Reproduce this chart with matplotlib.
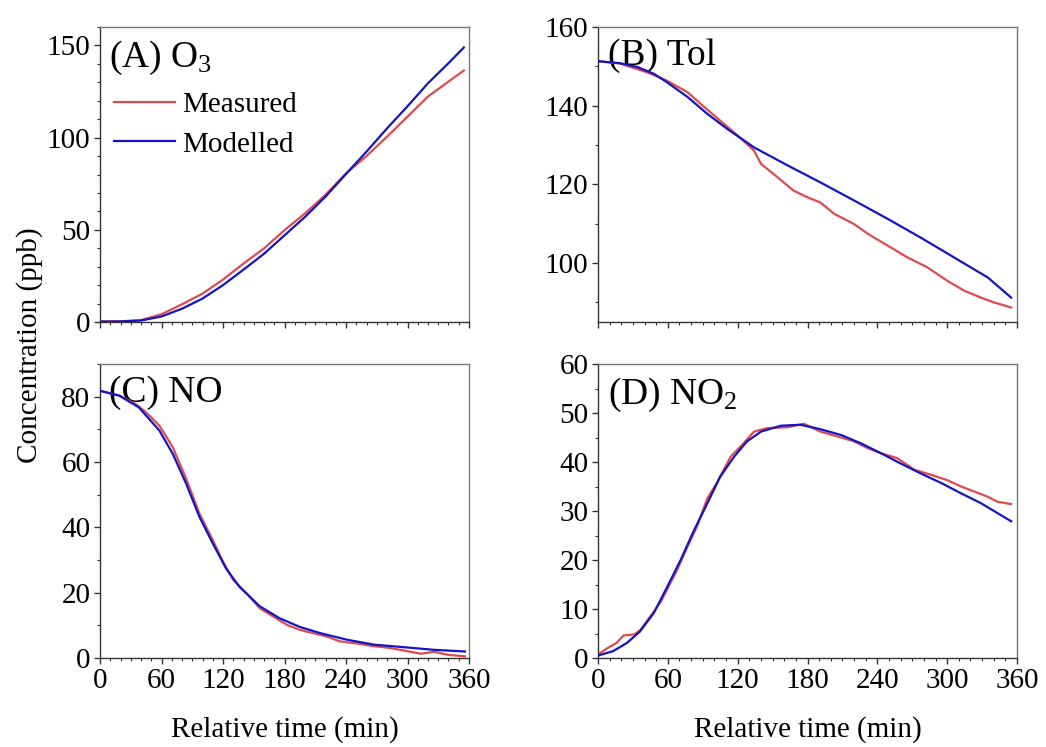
import matplotlib
matplotlib.use("Agg")
import matplotlib.pyplot as plt
from matplotlib.ticker import MultipleLocator

plt.rcParams['font.family'] = ['Liberation Serif', 'DejaVu Serif']
plt.rcParams['mathtext.fontset'] = 'custom'
plt.rcParams['mathtext.rm'] = 'Liberation Serif'
plt.rcParams['mathtext.it'] = 'Liberation Serif:italic'

RED = '#E04A4F'
BLUE = '#1414C4'

# ---------------- data ----------------
# (A) O3
o3_meas_t = [0, 20, 40, 60, 80, 100, 120, 140, 160, 180, 200, 220, 240, 260, 280, 300, 320, 340, 355]
o3_meas_v = [0.3, 0.4, 1.0, 4.2, 9.6, 15.4, 23.0, 31.7, 39.9, 49.8, 58.9, 69.0, 80.6, 90.0, 100.5, 111.4, 122.3, 130.4, 136.4]
o3_mod_t = [0, 20, 40, 60, 80, 100, 120, 140, 160, 180, 200, 220, 240, 260, 280, 300, 320, 340, 355]
o3_mod_v = [0.2, 0.3, 0.8, 3.0, 7.2, 12.7, 20.0, 28.4, 37.0, 47.0, 57.0, 68.0, 80.3, 92.4, 105.0, 117.0, 129.5, 140.4, 148.9]

# (B) Toluene
tol_meas_t = [0, 19, 42, 59, 77, 88, 105, 120, 134, 140, 151, 168, 180, 191, 203, 220, 232, 249, 266, 283, 300, 315, 329, 340, 355]
tol_meas_v = [151.3, 150.7, 148.5, 146.4, 143.4, 140.5, 136.2, 132.4, 128.6, 125.2, 122.6, 118.4, 116.7, 115.4, 112.5, 109.9, 107.4, 104.4, 101.4, 98.9, 95.5, 92.9, 91.2, 90.0, 88.7]
tol_mod_t = [0, 19, 34, 48, 59, 77, 94, 111, 134, 163, 191, 220, 249, 277, 306, 335, 355]
tol_mod_v = [151.3, 150.8, 149.8, 148.1, 146.0, 142.2, 137.9, 134.1, 129.4, 124.8, 120.5, 115.9, 111.2, 106.5, 101.4, 96.3, 91.2]

# (C) NO
no_meas_t = [0, 19, 35, 45, 58, 64, 71, 84, 97, 110, 120, 130, 143, 156, 169, 182, 195, 208, 221, 234, 254, 267, 280, 293, 313, 326, 339, 356]
no_meas_v = [81.8, 80.3, 77.7, 75.2, 71.1, 68.1, 64.5, 54.9, 44.2, 36.1, 29.5, 23.9, 19.8, 15.2, 12.7, 10.2, 8.6, 7.6, 6.6, 5.1, 4.3, 3.6, 3.2, 2.5, 1.3, 1.9, 1.0, 0.5]
no_mod_t = [0, 19, 38, 58, 71, 84, 97, 110, 123, 136, 156, 175, 195, 215, 241, 267, 293, 326, 356]
no_mod_v = [81.8, 80.3, 76.7, 69.6, 62.5, 53.4, 43.2, 35.1, 27.4, 21.8, 15.8, 12.2, 9.5, 7.6, 5.6, 4.1, 3.4, 2.5, 2.0]

# (D) NO2
no2_meas_t = [0, 8, 16, 22, 31, 36, 45, 54, 62, 68, 77, 85, 94, 102, 114, 125, 134, 145, 163, 177, 191, 206, 220, 232, 243, 257, 272, 286, 300, 312, 323, 335, 343, 355]
no2_meas_v = [0.7, 2.0, 3.1, 4.6, 4.8, 5.6, 8.5, 11.5, 15.2, 18.0, 22.8, 26.8, 32.6, 35.7, 41.1, 43.8, 46.2, 46.9, 47.1, 47.8, 46.2, 45.2, 44.2, 42.8, 41.8, 40.8, 38.4, 37.4, 36.3, 35.0, 34.0, 32.9, 31.9, 31.4]
no2_mod_t = [0, 13, 25, 36, 48, 59, 71, 82, 94, 105, 117, 128, 140, 157, 174, 191, 209, 226, 243, 260, 277, 295, 312, 329, 355]
no2_mod_v = [0.5, 1.4, 3.1, 5.4, 9.2, 14.3, 20.0, 25.8, 31.6, 37.0, 41.1, 44.2, 46.2, 47.4, 47.6, 46.7, 45.5, 43.8, 41.8, 39.7, 37.7, 35.7, 33.6, 31.6, 27.9]

x_ticks = [0, 60, 120, 180, 240, 300, 360]

# ---------------- figure ----------------
fig = plt.figure(figsize=(10.46, 7.47), dpi=100)
W, H = 1046, 747

def make_ax(x0, x1, y0, y1):
    return fig.add_axes([x0 / W, 1 - y1 / H, (x1 - x0) / W, (y1 - y0) / H])

axA = make_ax(100, 469, 27, 322)
axB = make_ax(598, 1017, 27, 322)
axC = make_ax(100, 469, 364, 658)
axD = make_ax(598, 1017, 364, 658)

panels = [
    (axA, o3_meas_t, o3_meas_v, o3_mod_t, o3_mod_v, (0, 160), 50, 10, '(A) O$_3$'),
    (axB, tol_meas_t, tol_meas_v, tol_mod_t, tol_mod_v, (85, 160), 20, 10, '(B) Tol'),
    (axC, no_meas_t, no_meas_v, no_mod_t, no_mod_v, (0, 90), 20, 10, '(C) NO'),
    (axD, no2_meas_t, no2_meas_v, no2_mod_t, no2_mod_v, (0, 60), 10, 5, '(D) NO$_2$'),
]

for ax, mt, mv, pt, pv, ylim, ymaj, ymin, title in panels:
    ax.plot(mt, mv, color=RED, lw=1.6, label='Measured', zorder=2)
    ax.plot(pt, pv, color=BLUE, lw=1.6, label='Modelled', zorder=3)
    ax.set_xlim(0, 360)
    ax.set_ylim(*ylim)
    ax.xaxis.set_major_locator(MultipleLocator(60))
    ax.xaxis.set_minor_locator(MultipleLocator(10))
    ax.yaxis.set_major_locator(MultipleLocator(ymaj))
    ax.yaxis.set_minor_locator(MultipleLocator(ymin))
    if ylim[0] == 85:
        ax.set_yticks([100, 120, 140, 160])
        ax.set_yticks([90, 110, 130, 150], minor=True)
    ax.tick_params(which='major', direction='out', length=4, width=1, labelsize=21, pad=3, color='#333333')
    ax.tick_params(which='minor', direction='out', length=2.5, width=0.8, color='#333333')
    ax.tick_params(top=False, right=False)
    for side in ['left', 'bottom']:
        ax.spines[side].set_color('#333333')
        ax.spines[side].set_linewidth(1.0)
    for side in ['top', 'right']:
        ax.spines[side].set_color('#777777')
        ax.spines[side].set_linewidth(1.0)
    ax.text(0.025, 0.96, title, transform=ax.transAxes, ha='left', va='top', fontsize=27, zorder=1)

for ax in (axA, axB):
    ax.tick_params(labelbottom=False)

for ax in (axC, axD):
    ax.set_xticks(x_ticks)
    ax.set_xlabel('Relative time (min)', fontsize=21, labelpad=16)

axA.legend(loc='upper left', bbox_to_anchor=(-0.01, 0.84), frameon=False, fontsize=21,
           handlelength=2.1, handletextpad=0.25, labelspacing=0.45, borderaxespad=0.2)

fig.text(30 / W, 1 - 345 / H, 'Concentration (ppb)', rotation=90, ha='center', va='center', fontsize=21)

fig.savefig('out.png', dpi=100)
